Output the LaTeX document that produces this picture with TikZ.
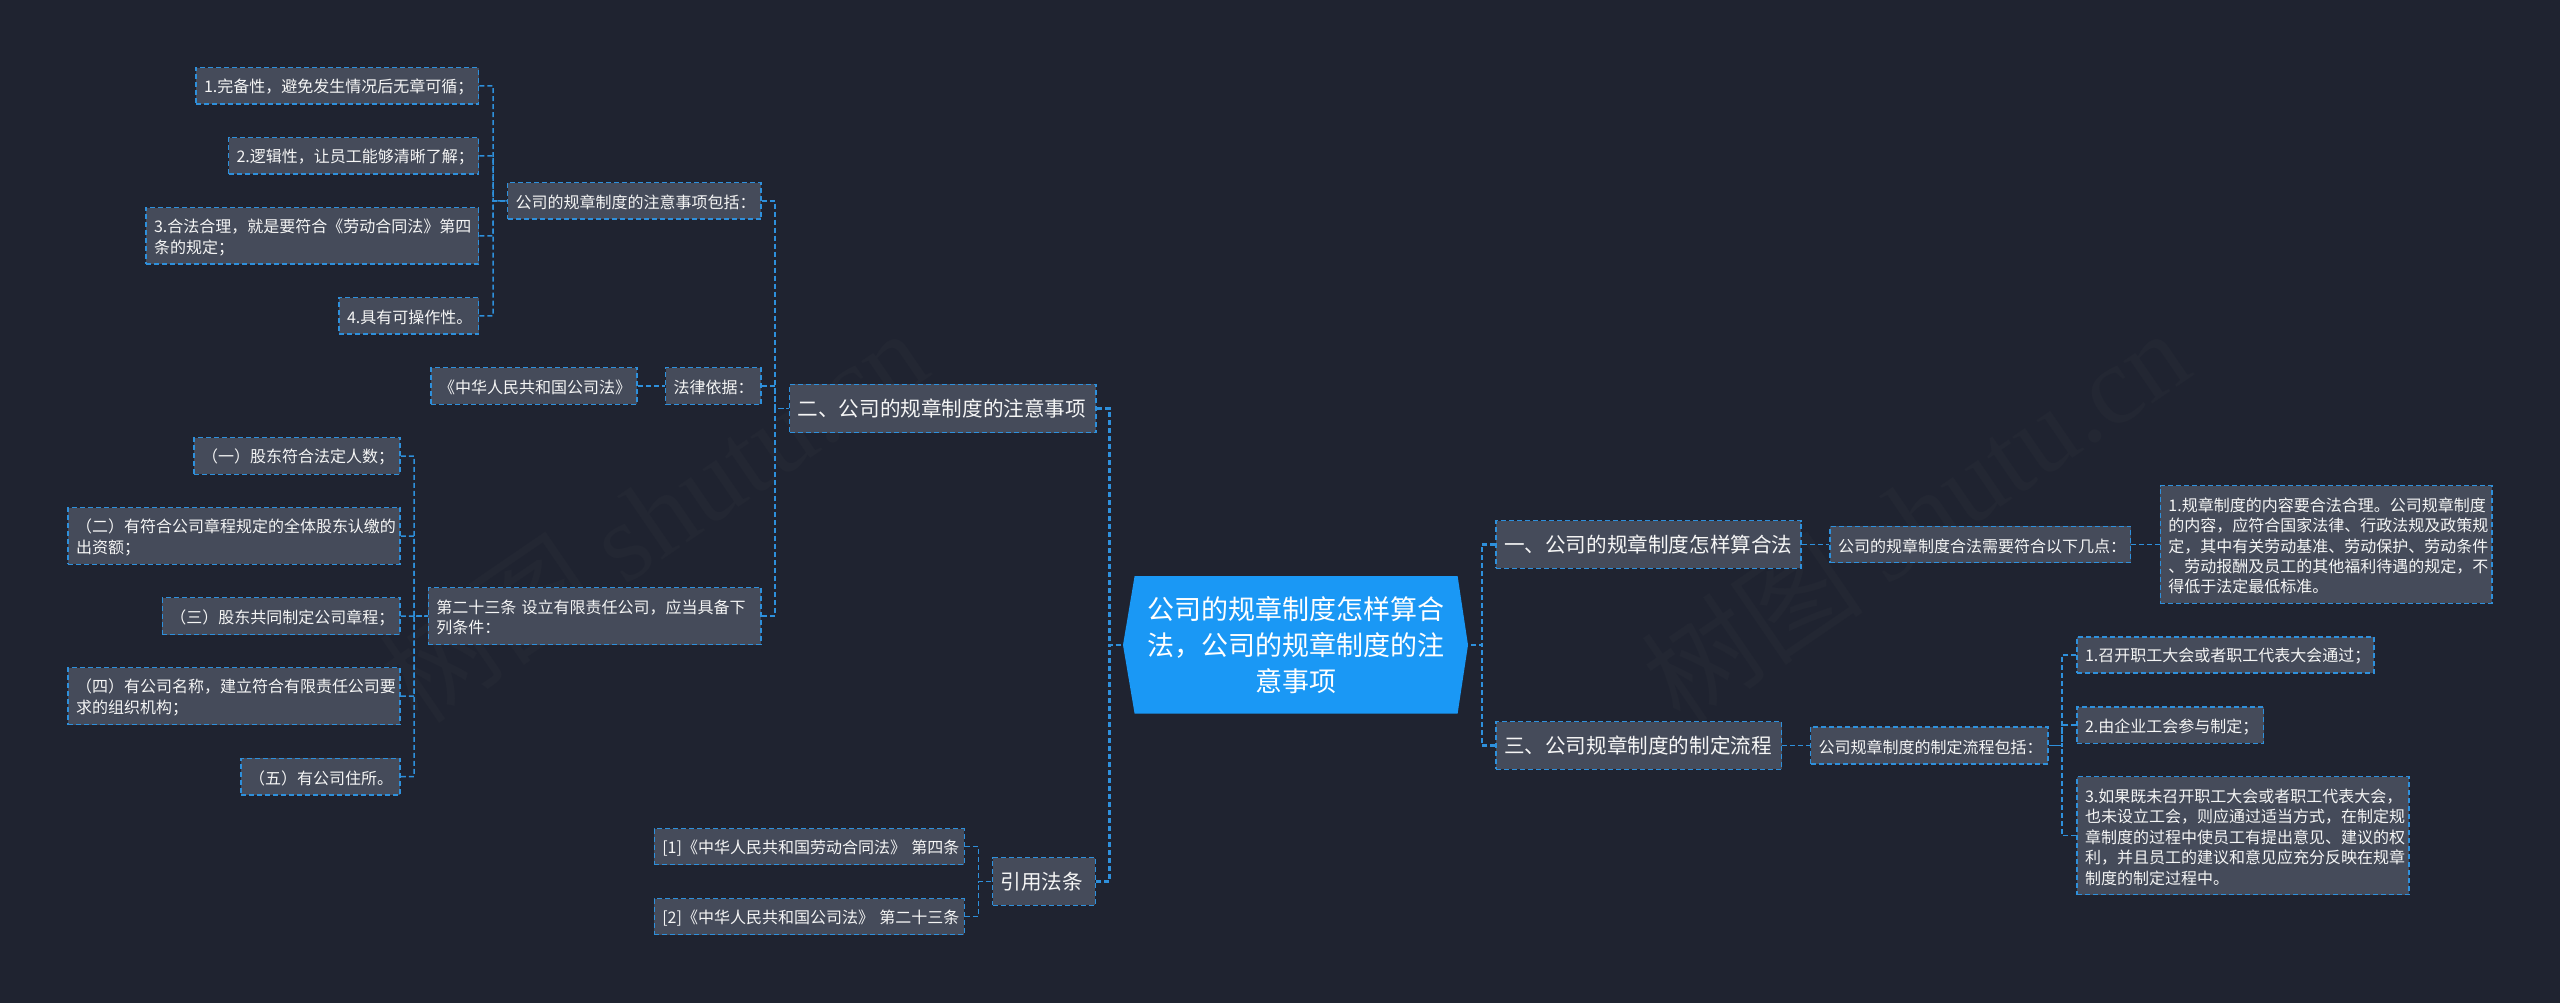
\documentclass[tikz,border=0pt]{standalone}
\usepackage{fontspec}
\setmainfont{Noto Sans CJK SC}
\newfontfamily\wmlatin{Liberation Serif}
\usetikzlibrary{calc}
\definecolor{bgc}{HTML}{1F2330}
\definecolor{boxc}{HTML}{454B5A}
\definecolor{linec}{HTML}{2E90DC}
\definecolor{rootc}{HTML}{1A98F5}
\definecolor{txtc}{HTML}{F5F5F5}
\definecolor{wmc}{HTML}{232733}
\tikzset{
  x=1pt,y=-1pt,
  boxbase/.style={draw=linec,fill=boxc,line width=1.5pt,dash pattern=on 5pt off 3pt,text=txtc,inner xsep=8pt,inner ysep=0pt,align=left},
  small/.style={boxbase,font=\fontsize{16}{20.4}\selectfont},
  branch/.style={boxbase,font=\fontsize{20.6}{26}\selectfont},
  conn/.style={draw=linec,line width=1.5pt,dash pattern=on 5pt off 3pt},
  main/.style={conn,line width=2.2pt},
  wmark/.style={text=wmc,rotate=34.4,inner sep=0pt,font=\fontsize{112}{120}\selectfont}
}
\newcommand{\bx}[7]{%
  \pgfmathsetmacro{\bw}{#4-#2}\pgfmathsetmacro{\bh}{#5-#3}%
  \pgfmathsetmacro{\bcx}{(#2+#4)/2}\pgfmathsetmacro{\bcy}{(#3+#5)/2}%
  \pgfmathsetmacro{\btw}{\bw-16}%
  \node[#6,minimum width=\bw pt,minimum height=\bh pt,text width=\btw pt] (#1) at (\bcx,\bcy) {\rule{0pt}{16.5pt}#7};}
\begin{document}
\begin{tikzpicture}
\useasboundingbox (0,0) rectangle (2560,1002);
\fill[bgc] (-5,-5) rectangle (2565,1007);
% watermarks
\node[wmark] (wm1) at (653,515) {树图 {\wmlatin shutu.cn}};
\node[wmark] (wm2) at (1915,515) {树图 {\wmlatin shutu.cn}};
% root
\fill[rootc] (1123,645) -- (1134.6,576) -- (1457.6,576) -- (1468,645) -- (1457.6,713.7) -- (1134.6,713.7) -- cycle;
\node[minimum width=345pt,minimum height=137pt,inner sep=0pt,text=white,align=center,font=\fontsize{27}{36}\selectfont] (root) at (1295.5,645) {公司的规章制度怎样算合\\法，公司的规章制度的注\\意事项};
% branches
\bx{b1}{1496}{520.7}{1801}{568.3}{branch}{一、公司的规章制度怎样算合法}
\bx{b3}{1496}{721.7}{1781.5}{769.3}{branch}{三、公司规章制度的制定流程}
\bx{b2}{789.6}{384.3}{1096}{432.7}{branch}{二、公司的规章制度的注意事项}
\bx{b4}{992.7}{857.7}{1095.3}{905.3}{branch}{引用法条}
% left upper
\bx{a1}{196}{67.7}{478.5}{104}{small}{1.完备性，避免发生情况后无章可循；}
\bx{a2}{228.5}{137.7}{478.5}{174}{small}{2.逻辑性，让员工能够清晰了解；}
\bx{a3}{146}{207.7}{478.5}{264}{small}{3.合法合理，就是要符合《劳动合同法》第四\\条的规定；}
\bx{a4}{339}{297.7}{478.5}{334}{small}{4.具有可操作性。}
\bx{an}{507.5}{182.7}{761}{219}{small}{公司的规章制度的注意事项包括：}
\bx{law}{431}{367.7}{637}{404.3}{small}{《中华人民共和国公司法》}
\bx{lawn}{665.5}{367.7}{761}{404.3}{small}{法律依据：}
% left lower
\bx{c1}{194}{437.7}{400}{474.3}{small}{（一）股东符合法定人数；}
\bx{c2}{68}{507.7}{400}{564.3}{small}{（二）有符合公司章程规定的全体股东认缴的\\出资额；}
\bx{c3}{162.4}{597.7}{400}{634.7}{small}{（三）股东共同制定公司章程；}
\bx{c4}{68}{667.7}{400}{724.7}{small}{（四）有公司名称，建立符合有限责任公司要\\求的组织机构；}
\bx{c5}{241}{758.3}{400}{795}{small}{（五）有公司住所。}
\bx{cn}{428.4}{587.7}{761}{644.7}{small}{第二十三条 设立有限责任公司，应当具备下\\列条件：}
% refs
\bx{r1}{654.3}{828.7}{964.3}{864.7}{small}{\mbox{[1]《中华人民共和国劳动合同法》 第四条}}
\bx{r2}{654.3}{898.7}{964.3}{934.7}{small}{\mbox{[2]《中华人民共和国公司法》 第二十三条}}
% right
\bx{d1}{1830}{526.3}{2130.6}{562.7}{small}{公司的规章制度合法需要符合以下几点：}
\bx{d2}{2160.4}{485.7}{2492}{603.3}{small}{1.规章制度的内容要合法合理。公司规章制度\\的内容，应符合国家法律、行政法规及政策规\\定，其中有关劳动基准、劳动保护、劳动条件\\、劳动报酬及员工的其他福利待遇的规定，不\\得低于法定最低标准。}
\bx{e0}{1810.6}{727}{2048}{764}{small}{公司规章制度的制定流程包括：}
\bx{e1}{2077}{637}{2374}{673}{small}{1.召开职工大会或者职工代表大会通过；}
\bx{e2}{2077}{707}{2263.7}{743.3}{small}{2.由企业工会参与制定；}
\bx{e3}{2077}{776.7}{2408.8}{894.7}{small}{3.如果既未召开职工大会或者职工代表大会，\\也未设立工会，则应通过适当方式，在制定规\\章制度的过程中使员工有提出意见、建议的权\\利，并且员工的建议和意见应充分反映在规章\\制度的制定过程中。}
% bus coordinates
\coordinate (busL) at (1109.5,645);
\coordinate (busR) at (1482,645);
\coordinate (busA) at (493,201);
\coordinate (busB) at (775,408.5);
\coordinate (busC) at (414,616);
\coordinate (busE) at (2062,745.5);
\coordinate (busF) at (978.7,881.5);
% connectors
\foreach \n in {b2,b4} \draw[main] (\n.east) -| (busL) -- (root.west);
\foreach \n in {b1,b3} \draw[main] (\n.west) -| (busR) -- (root.east);
\foreach \n in {a1,a2,a3,a4} \draw[conn] (\n.east) -| (busA) -- (an.west);
\foreach \n in {an,lawn,cn} \draw[conn] (\n.east) -| (busB) -- (b2.west);
\foreach \n in {c1,c2,c3,c4,c5} \draw[conn] (\n.east) -| (busC) -- (cn.west);
\foreach \n in {e1,e2,e3} \draw[conn] (\n.west) -| (busE) -- (e0.east);
\foreach \n in {r1,r2} \draw[conn] (\n.east) -| (busF) -- (b4.west);
\draw[conn] (law.east) -- (lawn.west);
\draw[conn] (b1.east) -- (d1.west);
\draw[conn] (d1.east) -- (d2.west);
\draw[conn] (b3.east) -- (e0.west);
\end{tikzpicture}
\end{document}
